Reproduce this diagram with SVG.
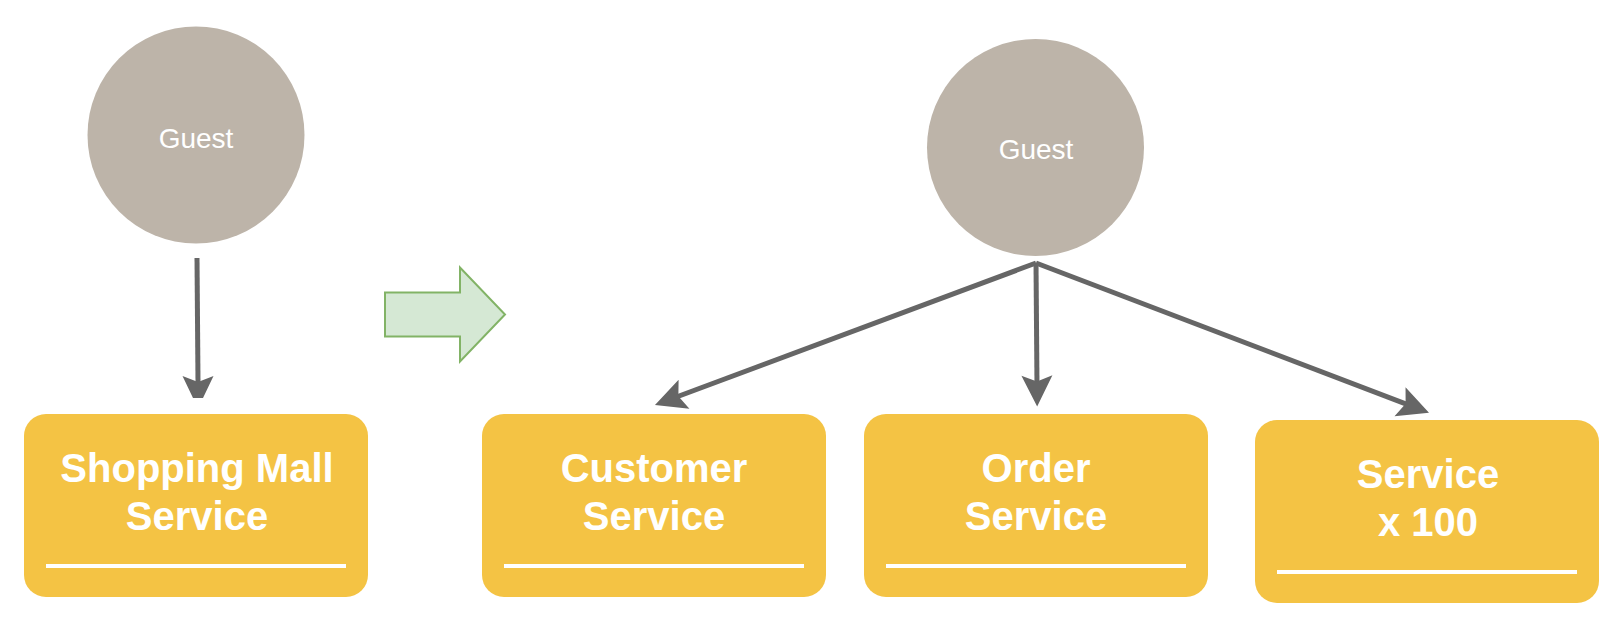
<svg xmlns="http://www.w3.org/2000/svg" width="1620" height="618" viewBox="0 0 1620 618">
  <style>
    .guest { fill: #bdb4a9; }
    .guest-text { font-family: "Liberation Sans", Arial, sans-serif; font-size: 28px; fill: #ffffff; text-anchor: middle; }
    .box { fill: #f4c344; }
    .box-text { font-family: "Liberation Sans", Arial, sans-serif; font-size: 40px; font-weight: bold; fill: #ffffff; text-anchor: middle; }
    .rule { stroke: #ffffff; stroke-width: 4; }
    .conn { stroke: #666666; stroke-width: 5; fill: none; }
    .head { fill: #666666; }
  </style>
  <defs>
    <marker id="arrow" markerUnits="userSpaceOnUse" markerWidth="40" markerHeight="40" viewBox="-15 -20 40 40" refX="0" refY="0" orient="auto">
      <path d="M20,0 L-11,-15.5 L-5,0 L-11,15.5 Z" fill="#666666"/>
    </marker>
  </defs>

  <g id="guest-left">
    <circle class="guest" cx="196" cy="135" r="108.5"/>
    <text class="guest-text" x="196" y="148">Guest</text>
  </g>

  <g id="guest-right">
    <circle class="guest" cx="1035.5" cy="147.5" r="108.5"/>
    <text class="guest-text" x="1036" y="159">Guest</text>
  </g>

  <g id="shopping-mall-service">
    <rect class="box" x="24" y="414" width="344" height="183" rx="22" ry="22"/>
    <text class="box-text" x="197" y="482">Shopping Mall</text>
    <text class="box-text" x="197" y="530">Service</text>
    <line class="rule" x1="46" y1="566" x2="346" y2="566"/>
  </g>

  <g id="customer-service">
    <rect class="box" x="482" y="414" width="344" height="183" rx="22" ry="22"/>
    <text class="box-text" x="654" y="482">Customer</text>
    <text class="box-text" x="654" y="530">Service</text>
    <line class="rule" x1="504" y1="566" x2="804" y2="566"/>
  </g>

  <g id="order-service">
    <rect class="box" x="864" y="414" width="344" height="183" rx="22" ry="22"/>
    <text class="box-text" x="1036" y="482">Order</text>
    <text class="box-text" x="1036" y="530">Service</text>
    <line class="rule" x1="886" y1="566" x2="1186" y2="566"/>
  </g>

  <g id="service-x100">
    <rect class="box" x="1255" y="420" width="344" height="183" rx="22" ry="22"/>
    <text class="box-text" x="1428" y="488">Service</text>
    <text class="box-text" x="1428" y="536">x 100</text>
    <line class="rule" x1="1277" y1="572" x2="1577" y2="572"/>
  </g>

  <g id="transition-arrow">
    <polygon points="385,292.5 460,292.5 460,267.5 505,314.5 460,361.5 460,336.5 385,336.5" fill="#d5e8d4" stroke="#82b366" stroke-width="2"/>
  </g>

  <g id="connectors">
    <line class="conn" x1="197" y1="258" x2="198" y2="382"/>
    <polygon class="head" points="182.5,376 198,382 213.5,376 203,398 193,398"/>
    <line class="conn" x1="1036" y1="263" x2="673.7" y2="398" marker-end="url(#arrow)"/>
    <line class="conn" x1="1036" y1="263" x2="1037" y2="386.5" marker-end="url(#arrow)"/>
    <line class="conn" x1="1036" y1="263" x2="1410.3" y2="405.6" marker-end="url(#arrow)"/>
  </g>
</svg>
